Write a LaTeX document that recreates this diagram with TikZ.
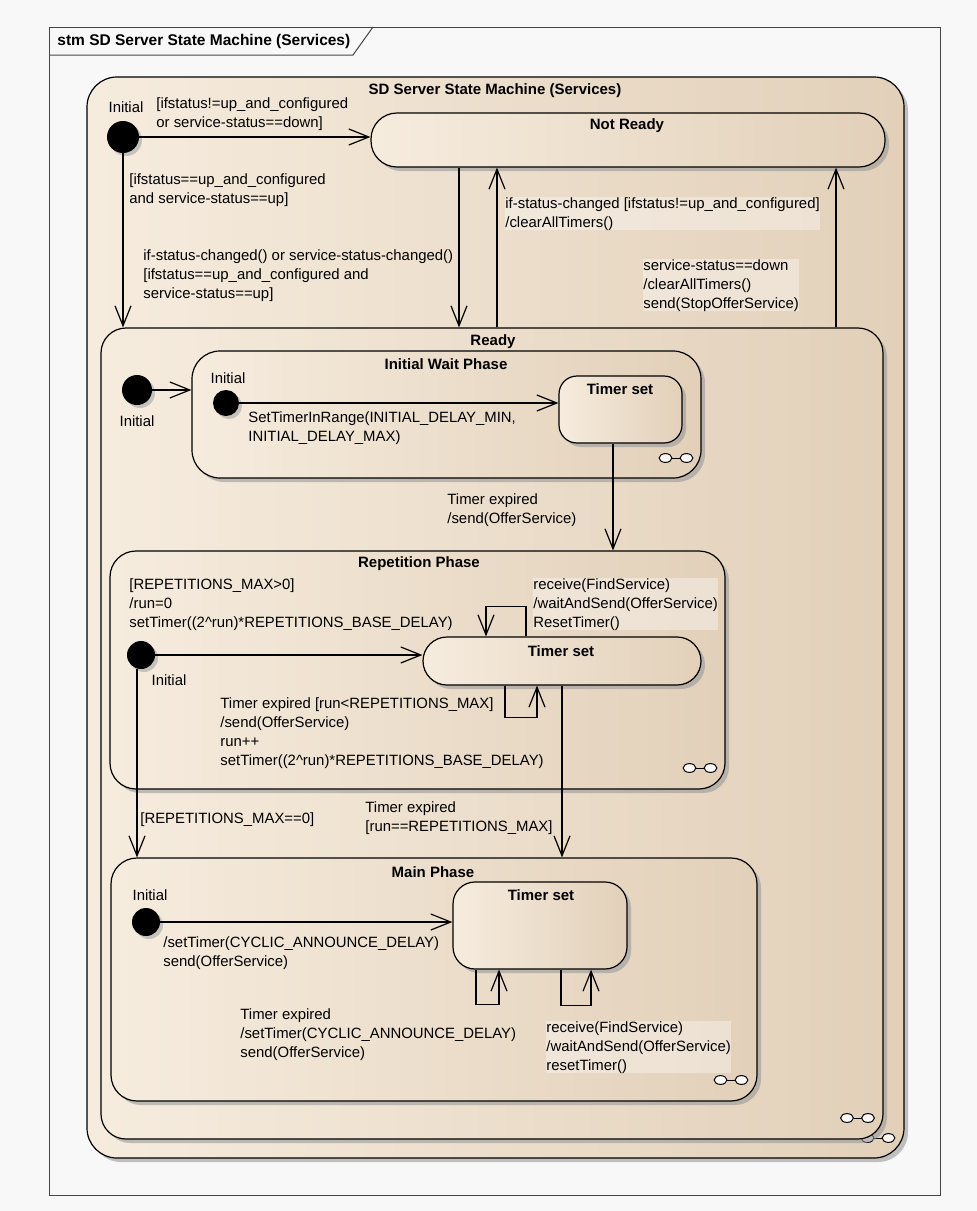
\documentclass[tikz,border=0pt]{standalone}
\usepackage{fontspec}
\setmainfont{Liberation Sans}
\usetikzlibrary{arrows.meta,fit,shadows}

\definecolor{paper}{RGB}{248,248,248}
\definecolor{stateL}{RGB}{246,236,222}
\definecolor{stateR}{RGB}{226,208,185}
\definecolor{framec}{RGB}{70,70,70}

\newcommand{\lblfont}{\fontsize{7.45}{9.5}\selectfont}
\newcommand{\ttlfont}{\fontsize{7.5}{8}\selectfont\bfseries}

\tikzset{
  compo/.pic={
    \draw[line width=0.5pt, fill=white!60!stateL] (-10.5,0) ellipse [x radius=3.2pt, y radius=2.2pt];
    \draw[line width=0.5pt] (-4,0) -- (4,0);
    \draw[line width=0.5pt, fill=white!60!stateL] (10.5,0) ellipse [x radius=3.2pt, y radius=2.2pt];
  }
}

\begin{document}
\begin{tikzpicture}[x=0.5pt,y=-0.5pt,
  state/.style={draw, line width=0.6pt, left color=stateL, right color=stateR, inner sep=0pt,
    drop shadow={shadow xshift=2pt, shadow yshift=-2pt, fill=black!40, opacity=0.6}},
  init/.style={circle, fill=black, inner sep=0pt, minimum size=14pt,
    drop shadow={shadow xshift=1.5pt, shadow yshift=-1.5pt, fill=black!35, opacity=0.6}},
  tr/.style={line width=0.6pt, -{Straight Barb[length=10pt, width=8pt]}},
  lbl/.style={font=\lblfont, anchor=north west, align=left, inner sep=0pt},
  bg/.style={fill=white, fill opacity=0.35, text opacity=1},
  ini/.style={font=\lblfont, inner sep=0pt},
  ttl/.style={font=\ttlfont, inner sep=0pt}]
  \useasboundingbox (0,0) rectangle (977,1211);
  \fill[paper] (0,0) rectangle (977,1211);

  % Frame
  \draw[framec, line width=0.5pt] (49,27) rectangle (940,1195);
  \draw[framec, line width=0.5pt] (49,55) -- (353,55) -- (373,27);
  \node[font=\fontsize{7.75}{9}\selectfont\bfseries, anchor=west, inner sep=0pt] (frameT) at (57,41) {stm SD Server State Machine (Services)};

  % States
  \node[state, rounded corners=15pt, fit={(87,77) (904,1158)}] (sdsm) {};
  \pic at (878,1138) {compo};
  \node[state, rounded corners=13pt, fit={(371,113) (885,167)}] (notready) {};
  \node[state, rounded corners=12.5pt, fit={(101,328) (883,1139)}] (ready) {};
  \pic at (857.5,1118) {compo};
  \node[state, rounded corners=14pt, fit={(192,351) (701,478)}] (iwp) {};
  \pic at (676,458) {compo};
  \node[state, rounded corners=9pt, fit={(559,376) (682,443)}] (tsA) {};
  \node[state, rounded corners=13pt, fit={(110,551) (725,789)}] (rep) {};
  \pic at (700,768) {compo};
  \node[state, rounded corners=12pt, fit={(423,637) (701,685)}] (tsB) {};
  \node[state, rounded corners=13pt, fit={(111,858) (757,1101)}] (main) {};
  \pic at (731,1080) {compo};
  \node[state, rounded corners=11pt, fit={(453,882) (627,969)}] (tsC) {};

  % Titles
  \node[ttl] (sdsmT) at (495,91) {SD Server State Machine (Services)};
  \node[ttl] (notreadyT) at (627,126) {Not Ready};
  \node[ttl] (readyT) at (493,342) {Ready};
  \node[ttl] (iwpT) at (446,364) {Initial Wait Phase};
  \node[ttl] (tsAT) at (620,389) {Timer set};
  \node[ttl] (repT) at (419,564) {Repetition Phase};
  \node[ttl] (tsBT) at (561,651) {Timer set};
  \node[ttl] (mainT) at (433,872) {Main Phase};
  \node[ttl] (tsCT) at (541,895) {Timer set};

  % Initial states
  \node[init, minimum size=16pt] (i0) at (123,137) {};
  \node[init, minimum size=15pt] (i1) at (137,390) {};
  \node[init, minimum size=13pt] (i2) at (226,403) {};
  \node[init] (i3) at (141,655) {};
  \node[init] (i4) at (146,922) {};
  \node[ini] (i0L) at (126,107) {Initial};
  \node[ini] (i1L) at (137,421) {Initial};
  \node[ini] (i2L) at (228,378) {Initial};
  \node[ini] (i3L) at (169,680) {Initial};
  \node[ini] (i4L) at (150,895) {Initial};

  % x positions of the vertical transitions
  \coordinate (nrDown) at (459,0);
  \coordinate (nrUp) at (497,0);
  \coordinate (nrUp2) at (836,0);
  \coordinate (tsOut) at (613,0);
  \coordinate (rp0) at (137,0);
  \coordinate (rpOut) at (562,0);
  \coordinate (lpA) at (486,0);
  \coordinate (lpB) at (526,0);
  \coordinate (lpC) at (505,0);
  \coordinate (lpD) at (537,0);
  \coordinate (lpE) at (476,0);
  \coordinate (lpF) at (499,0);
  \coordinate (lpG) at (561,0);
  \coordinate (lpH) at (591,0);

  % Transitions
  \draw[tr] (i0) -- (i0 -| notready.west);
  \draw[tr] (i0) -- (i0 |- ready.north);
  \draw[tr] (notready.south -| nrDown) -- (ready.north -| nrDown);
  \draw[tr] (ready.north -| nrUp) -- (notready.south -| nrUp);
  \draw[tr] (ready.north -| nrUp2) -- (notready.south -| nrUp2);
  \draw[tr] (i1) -- (i1 -| iwp.west);
  \draw[tr] (i2) -- (i2 -| tsA.west);
  \draw[tr] (tsA.south -| tsOut) -- (rep.north -| tsOut);
  \draw[tr] (i3) -- (i3 -| tsB.west);
  \draw[tr] (tsB.north -| lpB) -- ++(0,-30) -| (tsB.north -| lpA);
  \draw[tr] (tsB.south -| lpC) -- ++(0,32) -| (tsB.south -| lpD);
  \draw[tr] (tsB.south -| rpOut) -- (main.north -| rpOut);
  \draw[tr] (i3.south -| rp0) -- (main.north -| rp0);
  \draw[tr] (i4) -- (i4 -| tsC.west);
  \draw[tr] (tsC.south -| lpE) -- ++(0,35) -| (tsC.south -| lpF);
  \draw[tr] (tsC.south -| lpG) -- ++(0,36) -| (tsC.south -| lpH);

  % Transition labels
  \node[lbl] (l1) at (156,97) {[ifstatus!=up\_and\_configured\\or service-status==down]};
  \node[lbl] (l2) at (129,173) {[ifstatus==up\_and\_configured\\and service-status==up]};
  \node[lbl] (l3) at (143,249) {if-status-changed() or service-status-changed()\\{}[ifstatus==up\_and\_configured and\\service-status==up]};
  \node[lbl, bg] (l4) at (505,197) {if-status-changed [ifstatus!=up\_and\_configured]\\/clearAllTimers()};
  \node[lbl, bg] (l5) at (643,259) {service-status==down\\/clearAllTimers()\\send(StopOfferService)};
  \node[lbl] (l6) at (248,411) {SetTimerInRange(INITIAL\_DELAY\_MIN,\\INITIAL\_DELAY\_MAX)};
  \node[lbl] (l7) at (447,493) {Timer expired\\/send(OfferService)};
  \node[lbl] (l8) at (129,578) {[REPETITIONS\_MAX>0]\\/run=0\\setTimer((2\textasciicircum run)*REPETITIONS\_BASE\_DELAY)};
  \node[lbl, bg] (l9) at (533,578) {receive(FindService)\\/waitAndSend(OfferService)\\ResetTimer()};
  \node[lbl] (l10) at (220,697) {Timer expired [run<REPETITIONS\_MAX]\\/send(OfferService)\\run++\\setTimer((2\textasciicircum run)*REPETITIONS\_BASE\_DELAY)};
  \node[lbl] (l11) at (140,812) {[REPETITIONS\_MAX==0]};
  \node[lbl] (l12) at (365,801) {Timer expired\\{}[run==REPETITIONS\_MAX]};
  \node[lbl] (l13) at (163,936) {/setTimer(CYCLIC\_ANNOUNCE\_DELAY)\\send(OfferService)};
  \node[lbl] (l14) at (240,1008) {Timer expired\\/setTimer(CYCLIC\_ANNOUNCE\_DELAY)\\send(OfferService)};
  \node[lbl, bg] (l15) at (546,1021) {receive(FindService)\\/waitAndSend(OfferService)\\resetTimer()};
\end{tikzpicture}
\end{document}
